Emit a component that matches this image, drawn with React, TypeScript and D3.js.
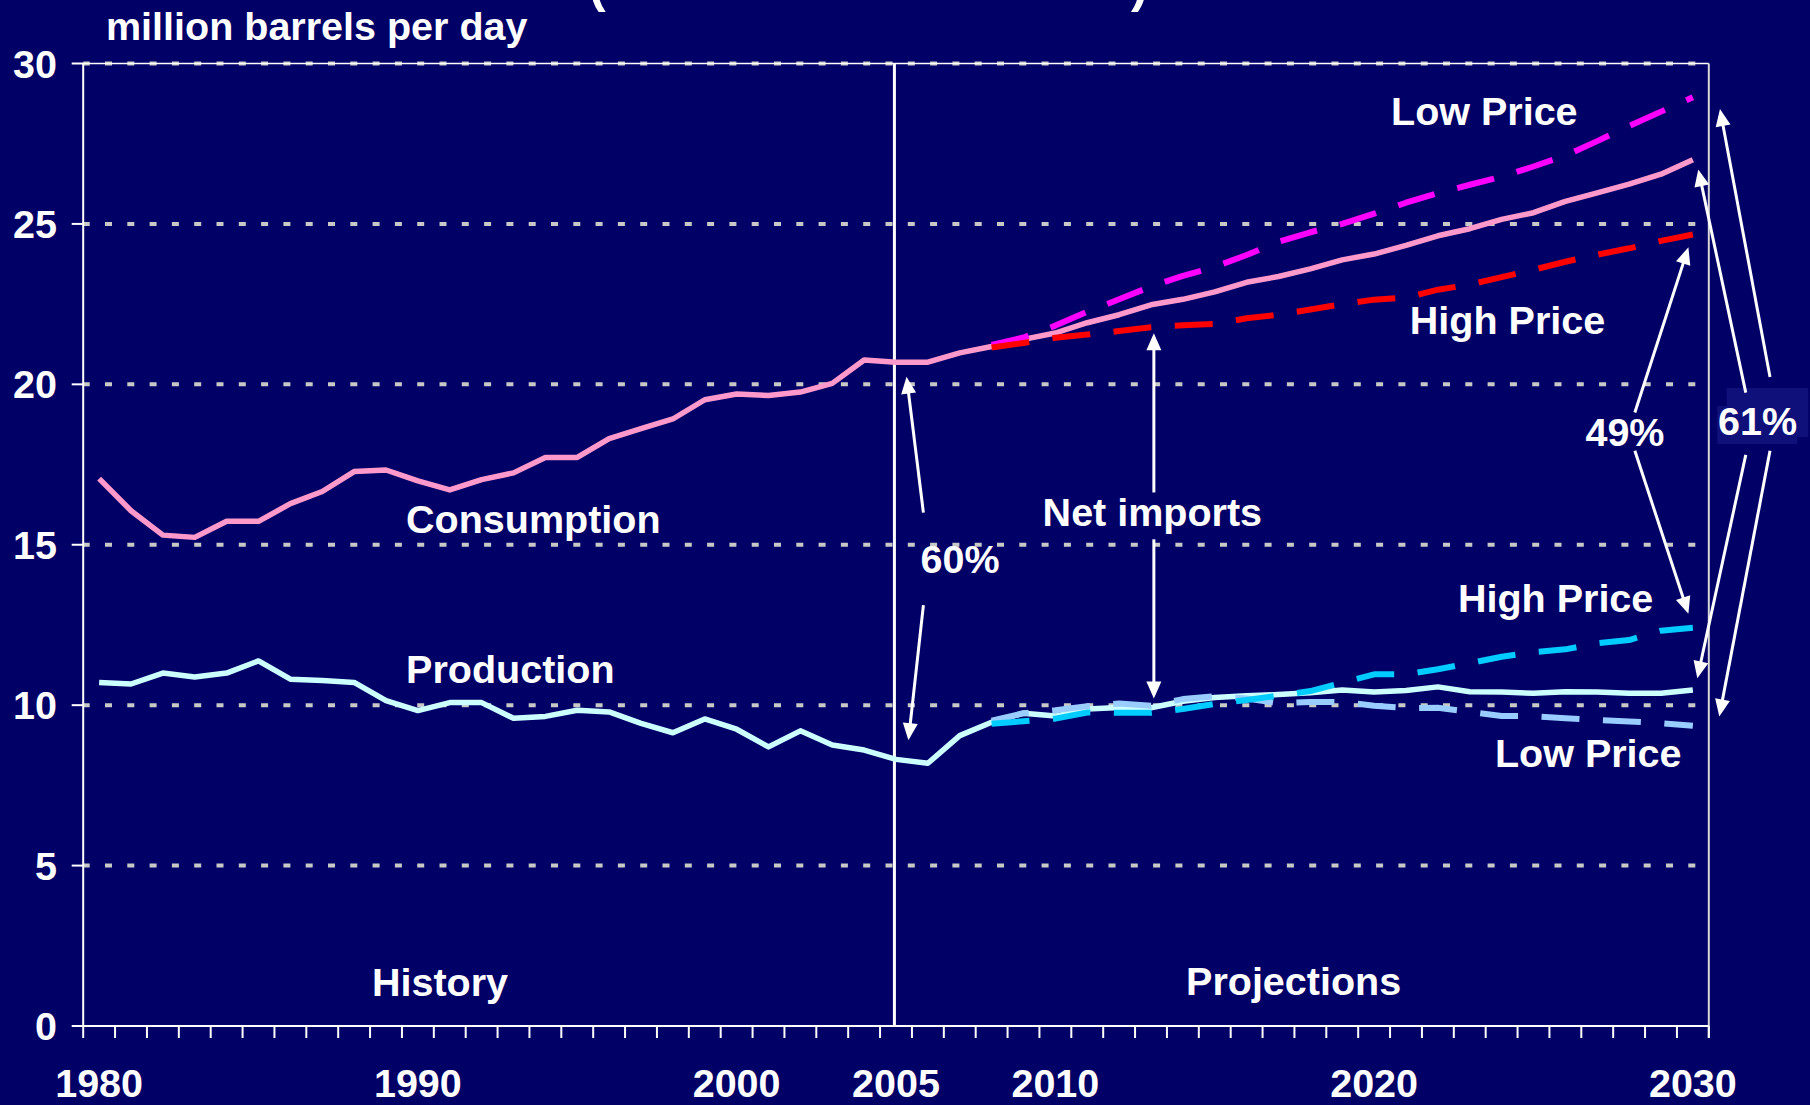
import * as d3 from 'd3'

const W = 1810
const H = 1105

// categories
const years = d3.range(1980, 2031)
const projYears = d3.range(2008, 2031)
const yTicks = [0, 5, 10, 15, 20, 25, 30]
const xTickLabels = [1980, 1990, 2000, 2005, 2010, 2020, 2030]

// million barrels per day, 1980-2030 (reference case)
const consumption = [
  17.06, 16.06, 15.3, 15.23, 15.73, 15.73, 16.28, 16.66, 17.28, 17.33,
  16.99, 16.71, 17.03, 17.24, 17.72, 17.72, 18.31, 18.62, 18.92, 19.52,
  19.7, 19.65, 19.76, 20.03, 20.76, 20.69, 20.69, 20.98, 21.18, 21.4,
  21.6, 21.92, 22.17, 22.48, 22.65, 22.88, 23.18, 23.36, 23.6, 23.88,
  24.06, 24.33, 24.63, 24.85, 25.14, 25.35, 25.7, 25.97, 26.24, 26.55, 27.0,
]
const production = [
  10.71, 10.66, 11.0, 10.88, 11.0, 11.38, 10.81, 10.77, 10.71, 10.14,
  9.83, 10.08, 10.08, 9.59, 9.65, 9.84, 9.79, 9.43, 9.14, 9.57,
  9.25, 8.7, 9.2, 8.76, 8.6, 8.31, 8.19, 9.05, 9.47, 9.75,
  9.66, 9.88, 9.93, 9.92, 10.12, 10.24, 10.29, 10.33, 10.39, 10.47,
  10.41, 10.46, 10.57, 10.42, 10.41, 10.37, 10.42, 10.41, 10.37, 10.37, 10.47,
]
// price cases, 2008-2030
const lowPriceConsumption = [
  21.23, 21.46, 21.83, 22.26, 22.65, 23.05, 23.38, 23.66, 24.03, 24.44, 24.74, 25.0,
  25.32, 25.66, 25.96, 26.22, 26.47, 26.79, 27.13, 27.58, 28.05, 28.5, 28.95,
]
const highPriceConsumption = [
  21.15, 21.29, 21.45, 21.55, 21.66, 21.78, 21.84, 21.88, 22.06, 22.17, 22.33, 22.5,
  22.64, 22.7, 22.95, 23.11, 23.34, 23.57, 23.82, 24.04, 24.24, 24.47, 24.67,
]
const lowPriceProduction = [
  9.52, 9.75, 9.84, 9.97, 10.05, 9.98, 10.19, 10.28, 10.21, 10.06, 10.1, 10.1,
  9.98, 9.91, 9.92, 9.79, 9.66, 9.66, 9.59, 9.54, 9.49, 9.44, 9.36,
]
const highPriceProduction = [
  9.42, 9.5, 9.58, 9.77, 9.76, 9.76, 9.88, 10.04, 10.16, 10.3, 10.44, 10.7,
  10.96, 10.96, 11.12, 11.31, 11.51, 11.65, 11.74, 11.93, 12.03, 12.32, 12.41,
]

// annotations in data space: [year, value]
const labels: { text: string; at: [number, number] }[] = [
  { text: 'Consumption', at: [1989.63, 15.37] },
  { text: 'Production', at: [1989.63, 10.68] },
  { text: 'History', at: [1988.56, 0.94] },
  { text: 'Projections', at: [2014.1, 0.98] },
  { text: 'Net imports', at: [2009.6, 15.6] },
  { text: '60%', at: [2005.77, 14.11] },
  { text: 'Low Price', at: [2020.53, 28.07] },
  { text: 'High Price', at: [2021.12, 21.57] },
  { text: '49%', at: [2026.63, 18.08] },
  { text: 'High Price', at: [2022.63, 12.9] },
  { text: 'Low Price', at: [2023.79, 8.07] },
]

const arrows: { from: [number, number]; to: [number, number] }[] = [
  { from: [2005.86, 16.0], to: [2005.33, 20.24] },
  { from: [2005.86, 13.12], to: [2005.39, 8.91] },
  { from: [2013.09, 16.63], to: [2013.09, 21.59] },
  { from: [2013.09, 15.17], to: [2013.09, 10.21] },
  { from: [2028.18, 19.12], to: [2029.86, 24.27] },
  { from: [2028.18, 17.93], to: [2029.86, 12.85] },
  { from: [2032.42, 20.23], to: [2030.85, 28.58] },
  { from: [2031.66, 19.74], to: [2030.17, 26.7] },
  { from: [2031.66, 17.8], to: [2030.14, 10.84] },
  { from: [2032.42, 17.93], to: [2030.83, 9.65] },
]

const BG = '#000066'
const FONT = '"Liberation Sans", Arial, sans-serif'

export default function App() {
  const x = d3.scaleLinear().domain([1979.5, 2030.5]).range([83.2, 1708.8])
  const y = d3.scaleLinear().domain([0, 30]).range([1026, 63.5])
  const line = d3.line<[number, number]>().x(d => x(d[0])).y(d => y(d[1]))

  const zip = (ys: number[], vs: number[]) => ys.map((yr, i) => [yr, vs[i]] as [number, number])

  const series = [
    { key: 'prod', pts: zip(years, production), color: '#CCFFFF', dash: undefined, w: 5.5 },
    { key: 'cons', pts: zip(years, consumption), color: '#FF99CC', dash: undefined, w: 5.5 },
    { key: 'lpc', pts: zip(projYears, lowPriceConsumption), color: '#FF00FF', dash: '38 23.5', w: 6 },
    { key: 'hpc', pts: zip(projYears, highPriceConsumption), color: '#FF0000', dash: '38 23.5', w: 6 },
    { key: 'lpp', pts: zip(projYears, lowPriceProduction), color: '#99CCFF', dash: '38 23.5', w: 6 },
    { key: 'hpp', pts: zip(projYears, highPriceProduction), color: '#00CCFF', dash: '38 23.5', w: 6 },
  ]

  const [x0, x1] = x.range()
  const bounds = d3.range(1979.5, 2031.5, 1)

  const textStyle = { fill: '#fff', fontFamily: FONT, fontWeight: 700, fontSize: 39.5 }

  const arrowShapes = arrows.map(a => {
    const fx = x(a.from[0]), fy = y(a.from[1])
    const tx = x(a.to[0]), ty = y(a.to[1])
    const len = Math.hypot(tx - fx, ty - fy)
    const ux = (tx - fx) / len, uy = (ty - fy) / len
    const head = 17, half = 7.5
    const bx = tx - ux * head, by = ty - uy * head
    const poly = [
      [tx, ty],
      [bx - uy * half, by + ux * half],
      [bx + uy * half, by - ux * half],
    ].map(p => p.join(',')).join(' ')
    return { fx, fy, sx: tx - ux * (head - 3), sy: ty - uy * (head - 3), poly }
  })

  return (
    <div style={{ position: 'absolute', left: 0, top: 0 }}>
      <svg width={W} height={H} style={{ display: 'block', background: BG }}>
        <rect width={W} height={H} fill={BG} />

        {/* title runs off the top of the slide; only its brackets peek in */}
        <text x={589} y={2} style={{ ...textStyle, fontSize: 50 }}>(</text>
        <text x={1131} y={2} style={{ ...textStyle, fontSize: 50 }}>)</text>

        <text x={106} y={40} style={textStyle}>million barrels per day</text>

        {/* grid */}
        {yTicks.filter(t => t > 0).map(t => (
          <line key={t} x1={x0} x2={x1} y1={y(t)} y2={y(t)}
            stroke="#C8C8C8" strokeWidth={4} strokeDasharray="7 15.3" strokeDashoffset={0.5} />
        ))}
        <line x1={x0} x2={x1} y1={y(30)} y2={y(30)} stroke="#fff" strokeWidth={1.5} />
        <line x1={x1} x2={x1} y1={y(30)} y2={y(0) + 12} stroke="#D8D8D8" strokeWidth={2} />

        {/* axes */}
        <line x1={x0} x2={x0} y1={y(30)} y2={y(0)} stroke="#fff" strokeWidth={2} />
        <line x1={x0} x2={x1} y1={y(0)} y2={y(0)} stroke="#fff" strokeWidth={2} />
        {yTicks.map(t => (
          <g key={t}>
            <line x1={x0 - 11.5} x2={x0} y1={y(t)} y2={y(t)} stroke="#fff" strokeWidth={2} />
            <text x={57} y={y(t) + 14} textAnchor="end" style={textStyle}>{t}</text>
          </g>
        ))}
        {bounds.map(b => (
          <line key={b} x1={x(b)} x2={x(b)} y1={y(0)} y2={y(0) + 12} stroke="#fff" strokeWidth={2} />
        ))}
        {xTickLabels.map(t => (
          <text key={t} x={x(t)} y={1097} textAnchor="middle" style={textStyle}>{t}</text>
        ))}

        {/* history / projections divider */}
        <line x1={x(2004.95)} x2={x(2004.95)} y1={y(30)} y2={y(0)} stroke="#fff" strokeWidth={3} />

        {/* series */}
        {series.map(s => (
          <path key={s.key} d={line(s.pts) ?? ''} fill="none" stroke={s.color}
            strokeWidth={s.w} strokeDasharray={s.dash} strokeLinejoin="round" />
        ))}

        {/* annotations */}
        {labels.map((l, i) => (
          <text key={i} x={x(l.at[0])} y={y(l.at[1])} style={textStyle}>{l.text}</text>
        ))}

        <rect x={1726.7} y={388} width={81.6} height={49} fill="#10107A" />
        <rect x={1717.3} y={406} width={80} height={38} fill="#10107A" />
        <text x={x(2030.79)} y={y(18.42)} style={textStyle}>61%</text>

        {arrowShapes.map((a, i) => (
          <g key={i}>
            <line x1={a.fx} y1={a.fy} x2={a.sx} y2={a.sy} stroke="#fff" strokeWidth={3} />
            <polygon points={a.poly} fill="#fff" />
          </g>
        ))}
      </svg>
    </div>
  )
}
